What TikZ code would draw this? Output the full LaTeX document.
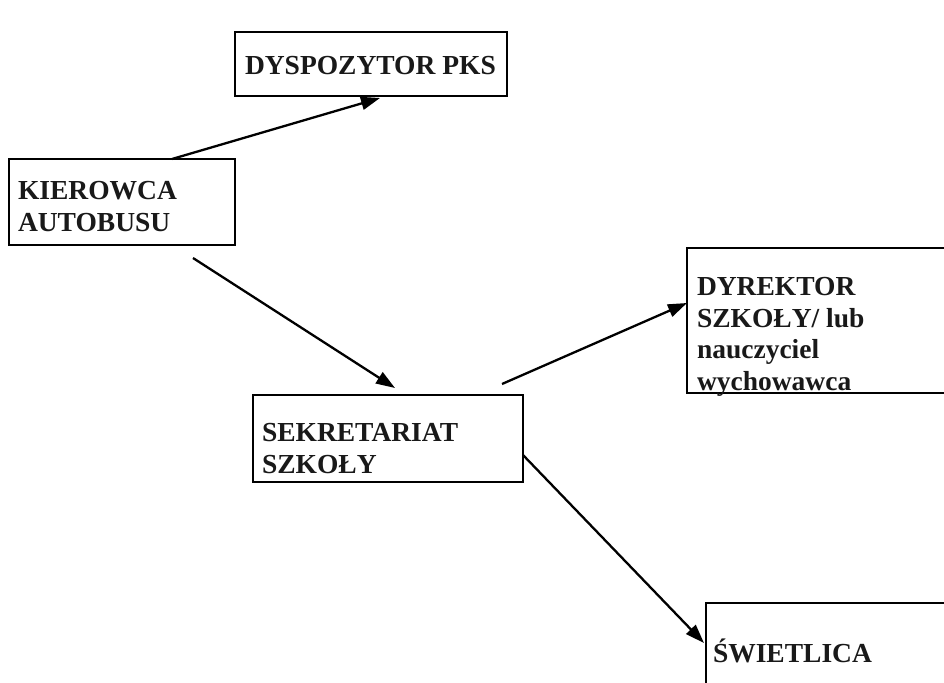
\documentclass[tikz,border=0pt]{standalone}
\usepackage{fontspec}
\setmainfont{Liberation Serif}
\usetikzlibrary{arrows.meta,calc}
\begin{document}
\begin{tikzpicture}[x=1pt,y=-1pt,
  box/.style={draw=black,line width=1.6pt,inner sep=0pt,outer sep=0pt,anchor=north west},
  lbl/.style={inner sep=0pt,outer sep=0pt,anchor=base west,align=left,text=black!90,
    font=\fontsize{27.5}{31.5}\selectfont\bfseries},
  conn/.style={line width=2.3pt,-{Triangle[length=19pt,width=13pt]}}]
\useasboundingbox (0,0) rectangle (944,682);
\clip (0,0) rectangle (944,682);
\fill[white] (0,0) rectangle (944,682);
% boxes
\node[box,minimum width=272pt,minimum height=64pt] (dysp) at (235,32) {};
\node[box,minimum width=226pt,minimum height=86pt] (kier) at (9,159) {};
\node[box,minimum width=270pt,minimum height=87pt] (sek) at (253,395) {};
\node[box,minimum width=280pt,minimum height=145pt] (dyr) at (687,248) {};
\node[box,minimum width=260pt,minimum height=120pt] (swiet) at (706,603) {};
% labels (base = last line's baseline)
\node[lbl] (dyspt) at (245,75) {DYSPOZYTOR PKS};
\node[lbl] (kiert) at (18,231) {KIEROWCA\\AUTOBUSU};
\node[lbl] (sekt) at (262,473) {SEKRETARIAT\\SZKOŁY};
\node[lbl] (dyrt) at (697,390) {DYREKTOR\\SZKOŁY/ lub\\nauczyciel\\wychowawca};
\node[lbl] (swiett) at (713,662) {ŚWIETLICA};
% connector ends
\coordinate (a1s) at ($(kier.north west)+(163,0)$);
\coordinate (a1e) at ($(dysp.south west)+(145,2)$);
\coordinate (a2s) at ($(kier.south west)+(184,13)$);
\coordinate (a2e) at ($(sek.north west)+(142,-7)$);
\coordinate (a3s) at ($(sek.north west)+(249,-11)$);
\coordinate (a3e) at ($(dyr.north west)+(0,55)$);
\coordinate (a4s) at ($(sek.north east)+(0,60)$);
\coordinate (a4e) at ($(swiet.north west)+(-2,40)$);
\draw[conn] (a1s) -- (a1e);
\draw[conn] (a2s) -- (a2e);
\draw[conn] (a3s) -- (a3e);
\draw[conn] (a4s) -- (a4e);
\end{tikzpicture}
\end{document}
